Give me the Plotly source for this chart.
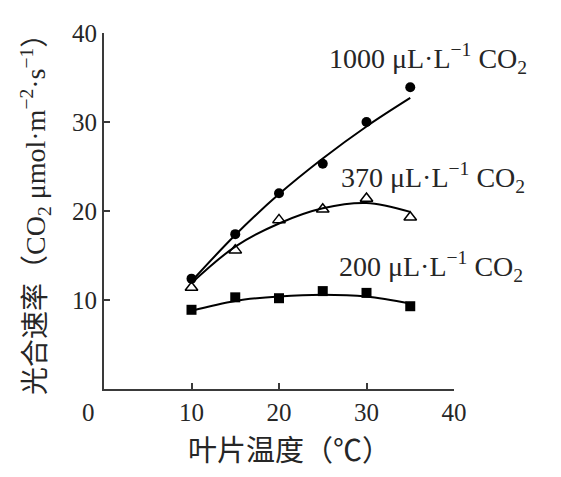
import plotly.graph_objects as go

temps = [10, 15, 20, 25, 30, 35]
co2_1000 = [12.4, 17.4, 22.0, 25.3, 30.0, 33.9]
co2_370 = [11.4, 15.6, 19.0, 20.2, 21.4, 19.3]
co2_200 = [8.9, 10.3, 10.2, 11.0, 10.8, 9.3]

fit_1000 = [12.1, 17.3, 21.9, 25.9, 29.5, 32.7]
fit_370 = [11.9, 16.0, 18.6, 20.3, 20.9, 19.9]
fit_200 = [8.8, 9.9, 10.4, 10.6, 10.4, 9.6]

labels = ["1000 μL·L<sup>−1</sup> CO<sub>2</sub>",
          "370 μL·L<sup>−1</sup> CO<sub>2</sub>",
          "200 μL·L<sup>−1</sup> CO<sub>2</sub>"]
label_pos = [(37.0, 37.1), (37.6, 23.8), (37.4, 13.8)]

x_ticks = [10, 20, 30, 40]
y_ticks = [10, 20, 30, 40]

x_title = "叶片温度（℃）"
y_title = "光合速率（CO<sub>2</sub> μmol·m<sup>−2</sup>·s<sup>−1</sup>）"

FONT = "Liberation Serif, Times New Roman, Noto Sans CJK SC, serif"
AX = "#3a3a3a"
TXT = "#262626"

fig = go.Figure()
for fit in (fit_1000, fit_370, fit_200):
    fig.add_trace(go.Scatter(x=temps, y=fit, mode="lines",
                             line=dict(color="black", width=2, shape="spline", smoothing=1.0),
                             showlegend=False, hoverinfo="skip"))

fig.add_trace(go.Scatter(x=temps, y=co2_1000, mode="markers",
                         marker=dict(symbol="circle", size=10, color="black"), showlegend=False))
fig.add_trace(go.Scatter(x=temps, y=co2_370, mode="markers",
                         marker=dict(symbol="triangle-up-open", size=11, color="black",
                                     line=dict(width=1.5, color="black")), showlegend=False))
fig.add_trace(go.Scatter(x=temps, y=co2_200, mode="markers",
                         marker=dict(symbol="square", size=10, color="black"), showlegend=False))

for txt, (lx, ly) in zip(labels, label_pos):
    fig.add_annotation(x=lx, y=ly, xref="x", yref="y", text=txt, showarrow=False,
                       xanchor="center", yanchor="middle",
                       font=dict(family=FONT, size=28, color=TXT))

fig.add_annotation(x=0, y=0, xref="x", yref="y", text="0", showarrow=False,
                   xanchor="center", yanchor="top", xshift=-16, yshift=-8,
                   font=dict(family=FONT, size=25, color=TXT))

# axis titles
fig.add_annotation(x=0.5, y=0, xref="paper", yref="paper", text=x_title, showarrow=False,
                   xanchor="center", yanchor="middle", xshift=10, yshift=-62,
                   font=dict(family=FONT, size=29, color=TXT))
fig.add_annotation(x=0, y=0.5, xref="paper", yref="paper", text=y_title, showarrow=False,
                   textangle=-90, xanchor="center", yanchor="middle", xshift=-69, yshift=3,
                   font=dict(family=FONT, size=28, color=TXT))

fig.update_layout(
    width=553, height=469,
    margin=dict(l=96, r=107, t=25, b=88, autoexpand=False),
    paper_bgcolor="white", plot_bgcolor="white",
    font=dict(family=FONT, size=25, color=TXT),
)
fig.update_xaxes(range=[0, 40], tickvals=x_ticks, showline=True, linecolor=AX, linewidth=2,
                 ticks="inside", ticklen=6, tickwidth=2, tickcolor=AX, showgrid=False, zeroline=False,
                 automargin=False, tickfont=dict(family=FONT, size=25, color=TXT))
fig.update_yaxes(range=[0, 40], tickvals=y_ticks, showline=True, linecolor=AX, linewidth=2,
                 ticks="inside", ticklen=6, tickwidth=2, tickcolor=AX, showgrid=False, zeroline=False,
                 automargin=False, tickfont=dict(family=FONT, size=25, color=TXT))

fig.write_html("out.html")
